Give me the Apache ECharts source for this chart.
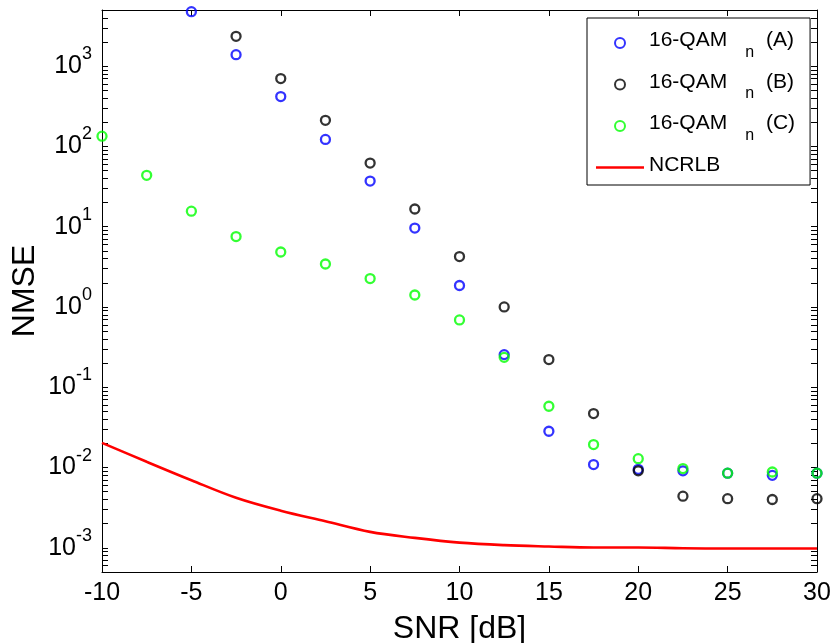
<!DOCTYPE html>
<html>
<head>
<meta charset="utf-8">
<script src="https://cdn.jsdelivr.net/npm/echarts@6/dist/echarts.min.js"></script>
<style>
html,body{margin:0;padding:0;background:#fff;}
#chart{width:833px;height:643px;}
</style>
</head>
<body>
<div id="chart"></div>
<script>
// ---- data ----
var snrA = [-5, -2.5, 0, 2.5, 5, 7.5, 10, 12.5, 15, 17.5, 20, 22.5, 25, 27.5, 30];
var nmseA = [4770, 1390, 417, 122, 37, 9.6, 1.85, 0.255, 0.0283, 0.0109, 0.0095, 0.0091, 0.0085, 0.0080, 0.0085];

var snrB = [-2.5, 0, 2.5, 5, 7.5, 10, 12.5, 15, 17.5, 20, 22.5, 25, 27.5, 30];
var nmseB = [2350, 699, 211, 62, 16.6, 4.24, 1.0, 0.221, 0.047, 0.0091, 0.0044, 0.0041, 0.0040, 0.0041];

var snrC = [-10, -7.5, -5, -2.5, 0, 2.5, 5, 7.5, 10, 12.5, 15, 17.5, 20, 22.5, 25, 27.5, 30];
var nmseC = [134, 43.6, 15.6, 7.53, 4.84, 3.43, 2.26, 1.41, 0.689, 0.236, 0.058, 0.0193, 0.0129, 0.0097, 0.0085, 0.0088, 0.0085];

var snrBound = [-10, -7.5, -5, -2.5, 0, 2.5, 5, 7.5, 10, 12.5, 15, 17.5, 20, 22.5, 25, 27.5, 30];
var ncrlb = [0.0203, 0.0118, 0.00695, 0.0042, 0.0029, 0.00214, 0.00158, 0.00133, 0.00116, 0.00108, 0.00104, 0.00101, 0.00101, 0.00099, 0.00098, 0.00098, 0.00098];

var seriesNames = ['16-QAM_n (A)', '16-QAM_n (B)', '16-QAM_n (C)', 'NCRLB'];
var seriesColors = ['#0000ff', '#000000', '#00ff00', '#ff0000'];

var xTicks = [-10, -5, 0, 5, 10, 15, 20, 25, 30];
var yDecades = [-3, -2, -1, 0, 1, 2, 3];
var yMin = 5e-4, yMax = 5e3;

// tick positions of a log axis: decades plus 2..9 x each decade
var majorVals = yDecades.map(function (e) { return Math.pow(10, e); });
var allTickVals = [];
for (var d = -4; d <= 3; d++) {
  for (var m = 1; m <= 9; m++) {
    var v = m * Math.pow(10, d);
    if (v > yMin && v < yMax) allTickVals.push(v);
  }
}

function pairs(xs, ys) { return xs.map(function (x, i) { return [x, ys[i]]; }); }

var FONT = '"Liberation Sans", Arial, sans-serif';

var chart = echarts.init(document.getElementById('chart'), null, {renderer: 'canvas'});

var option = {
  backgroundColor: '#ffffff',
  animation: false,
  textStyle: {fontFamily: FONT, color: '#000'},
  grid: {left: 102, right: 16, top: 10, bottom: 71, containLabel: false, outerBoundsMode: 'none'},
  legend: {
    orient: 'vertical',
    left: 587, top: 18,
    padding: [12, 15, 0, 9],
    borderColor: '#000', borderWidth: 1, borderRadius: 0,
    backgroundColor: '#fff',
    itemWidth: 48, itemHeight: 10, itemGap: 11,
    data: [
      {name: seriesNames[0]},
      {name: seriesNames[1]},
      {name: seriesNames[2]},
      {name: seriesNames[3], icon: 'path://M0,0H48V2.6H0Z'}
    ],
    formatter: function (name) {
      if (name.indexOf('_n') >= 0) {
        var parts = name.split('_n');
        return '{t|' + parts[0] + '}{sub|n}{t|' + parts[1] + '}';
      }
      return '{t|' + name + '}{sub| }';
    },
    textStyle: {
      fontFamily: FONT, color: '#000', padding: [0, 0, 0, 0],
      rich: {
        t: {fontFamily: FONT, fontSize: 21, color: '#000', lineHeight: 26, verticalAlign: 'top'},
        sub: {fontFamily: FONT, fontSize: 16, color: '#000', lineHeight: 16, padding: [14.5, 6, 0, 18], verticalAlign: 'top'}
      }
    }
  },
  xAxis: [{
    type: 'value', position: 'bottom', min: -10, max: 30, interval: 5,
    name: 'SNR [dB]', nameLocation: 'middle', nameGap: 41, nameMoveOverlap: false,
    nameTextStyle: {fontFamily: FONT, fontSize: 32, color: '#000'},
    axisLine: {show: true, onZero: false, lineStyle: {color: '#000', width: 1}},
    axisTick: {show: true, inside: true, length: 6, lineStyle: {color: '#000', width: 1}},
    axisLabel: {show: true, fontFamily: FONT, fontSize: 25, color: '#000', margin: 9},
    splitLine: {show: false}
  }, {
    type: 'value', position: 'top', min: -10, max: 30, interval: 5,
    axisLine: {show: true, onZero: false, lineStyle: {color: '#000', width: 1}},
    axisTick: {show: true, inside: true, length: 6, lineStyle: {color: '#000', width: 1}},
    axisLabel: {show: false},
    splitLine: {show: false}
  }],
  yAxis: [{
    type: 'log', logBase: 10, position: 'left', min: yMin, max: yMax,
    name: 'NMSE', nameLocation: 'middle', nameGap: 61, nameRotate: 90, nameMoveOverlap: false,
    nameTextStyle: {fontFamily: FONT, fontSize: 32, color: '#000'},
    axisLine: {show: true, onZero: false, lineStyle: {color: '#000', width: 1}},
    axisTick: {show: true, inside: true, length: 6, lineStyle: {color: '#000', width: 1}, customValues: allTickVals},
    axisLabel: {
      show: true, margin: 10, customValues: majorVals,
      formatter: function (v) {
        var e = Math.round(Math.log10(v));
        return '{b|10}{s|' + e + '}';
      },
      rich: {
        b: {fontFamily: FONT, fontSize: 25, color: '#000', lineHeight: 42, verticalAlign: 'middle'},
        s: {fontFamily: FONT, fontSize: 18, color: '#000', lineHeight: 16, verticalAlign: 'top'}
      }
    },
    splitLine: {show: false}, minorTick: {show: false}
  }, {
    type: 'log', logBase: 10, position: 'right', min: yMin, max: yMax,
    axisLine: {show: true, onZero: false, lineStyle: {color: '#000', width: 1}},
    axisTick: {show: true, inside: true, length: 6, lineStyle: {color: '#000', width: 1}, customValues: allTickVals},
    axisLabel: {show: false},
    splitLine: {show: false}, minorTick: {show: false}
  }],
  series: [
    {name: seriesNames[0], type: 'scatter', data: pairs(snrA, nmseA), symbol: 'circle', symbolSize: 9,
     itemStyle: {color: 'rgba(255,255,255,0)', borderColor: seriesColors[0], borderWidth: 2.3}, clip: false},
    {name: seriesNames[1], type: 'scatter', data: pairs(snrB, nmseB), symbol: 'circle', symbolSize: 9,
     itemStyle: {color: 'rgba(255,255,255,0)', borderColor: seriesColors[1], borderWidth: 2.3}, clip: false},
    {name: seriesNames[2], type: 'scatter', data: pairs(snrC, nmseC), symbol: 'circle', symbolSize: 9,
     itemStyle: {color: 'rgba(255,255,255,0)', borderColor: seriesColors[2], borderWidth: 2.3}, clip: false},
    {name: seriesNames[3], type: 'line', data: pairs(snrBound, ncrlb), symbol: 'none', showSymbol: false,
     smooth: 0.35,
     lineStyle: {color: seriesColors[3], width: 2.6}, itemStyle: {color: seriesColors[3]}}
  ]
};
chart.setOption(option);
</script>
</body>
</html>
